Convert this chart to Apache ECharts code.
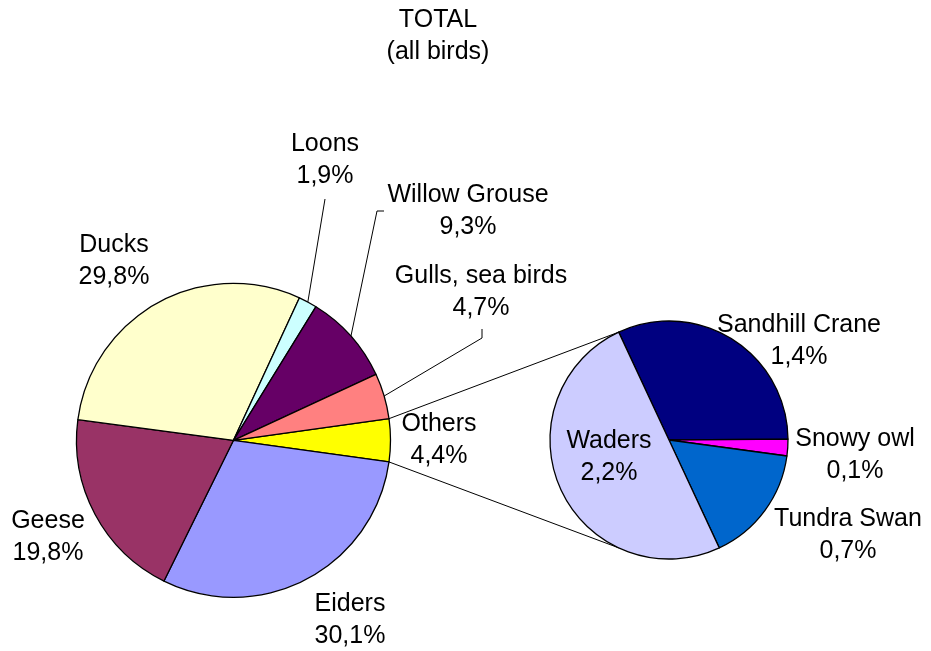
<!DOCTYPE html>
<html>
<head>
<meta charset="utf-8">
<script src="https://cdn.jsdelivr.net/npm/echarts@6/dist/echarts.min.js"></script>
<style>
  html, body { margin: 0; padding: 0; background: #fff; }
  #chart { width: 931px; height: 651px; }
</style>
</head>
<body>
<div id="chart"></div>
<script>
// Main pie, clockwise starting from the "Others" wedge
const mainNames = ['Others', 'Eiders', 'Geese', 'Ducks', 'Loons', 'Willow Grouse', 'Gulls, sea birds'];
const mainValues = [4.4, 30.1, 19.8, 29.8, 1.9, 9.3, 4.7];

// Breakdown of "Others", clockwise
const otherNames = ['Sandhill Crane', 'Snowy owl', 'Tundra Swan', 'Waders'];
const otherValues = [1.4, 0.1, 0.7, 2.2];

const mainColors = ['#FFFF00', '#9999FF', '#993366', '#FFFFCC', '#CCFFFF', '#660066', '#FF8080'];
const otherColors = ['#000080', '#FF00FF', '#0066CC', '#CCCCFF'];

const FONT = "'Liberation Sans', Arial, sans-serif";
const FS = 25;
const LH = 32;

// Geometry of the two pies
const mainCenter = [233.5, 440.3], mainR = 157;
const subCenter = [669, 440], subR = 119;
const subStart = 115;

const mainTotal = mainValues.reduce((a, b) => a + b, 0);
const mainStart = mainValues[0] / mainTotal * 360 / 2;

// Label placement (centre of each two-line label block)
const labelPos = {
  'Ducks': [114, 261],
  'Geese': [48, 537],
  'Eiders': [350, 620],
  'Others': [439, 440],
  'Gulls, sea birds': [481, 292],
  'Willow Grouse': [468, 211],
  'Loons': [325, 160],
  'Waders': [609, 457],
  'Sandhill Crane': [799, 341],
  'Snowy owl': [855, 455],
  'Tundra Swan': [848, 535]
};
// Leader line bends for labels that have one
const leaderPts = {
  'Loons': [[325, 199], [325, 199]],
  'Willow Grouse': [[377, 211], [384, 211]],
  'Gulls, sea birds': [[482, 338], [482, 329]]
};

function fmt(v) { return v.toFixed(1).replace('.', ',') + '%'; }

function buildData(names, values, colors) {
  return names.map((n, i) => ({
    name: n,
    value: values[i],
    itemStyle: { color: colors[i] },
    labelLine: { show: !!leaderPts[n] }
  }));
}

function polar(c, r, deg) {
  const a = deg * Math.PI / 180;
  return [c[0] + r * Math.cos(a), c[1] - r * Math.sin(a)];
}

const chart = echarts.init(document.getElementById('chart'));

function makeLayout(names, seriesCenter, seriesR, values, start) {
  const total = values.reduce((a, b) => a + b, 0);
  return function (params) {
    const name = names[params.dataIndex];
    const p = labelPos[name];
    const out = { x: p[0], y: p[1], align: 'center', verticalAlign: 'middle' };
    if (leaderPts[name]) {
      let acc = 0;
      for (let i = 0; i < params.dataIndex; i++) acc += values[i];
      const mid = start - (acc + values[params.dataIndex] / 2) / total * 360;
      const edge = polar(seriesCenter, seriesR, mid);
      out.labelLinePoints = [edge, leaderPts[name][0], leaderPts[name][1]];
    }
    return out;
  };
}

const labelStyle = {
  show: true,
  position: 'outside',
  color: '#000',
  fontFamily: FONT,
  fontSize: FS,
  lineHeight: LH,
  align: 'center',
  formatter: p => p.name + '\n' + fmt(p.value)
};

// Connector lines from the "Others" wedge to the breakdown pie
const topA = polar(mainCenter, mainR, mainStart);
const botA = polar(mainCenter, mainR, -mainStart);
const topB = polar(subCenter, subR, subStart);
const botB = polar(subCenter, subR, -subStart);

chart.setOption({
  animation: false,
  backgroundColor: '#fff',
  graphic: [
    {
      type: 'text', x: 438, y: 36,
      style: {
        text: 'TOTAL\n(all birds)', fill: '#000', font: FS + 'px ' + FONT,
        lineHeight: LH, textAlign: 'center', textVerticalAlign: 'middle'
      }
    },
    { type: 'line', shape: { x1: topA[0], y1: topA[1], x2: topB[0], y2: topB[1] }, style: { stroke: '#000', lineWidth: 1 } },
    { type: 'line', shape: { x1: botA[0], y1: botA[1], x2: botB[0], y2: botB[1] }, style: { stroke: '#000', lineWidth: 1 } }
  ],
  series: [
    {
      type: 'pie',
      center: mainCenter,
      radius: mainR,
      startAngle: mainStart,
      clockwise: true,
      avoidLabelOverlap: false,
      silent: true,
      itemStyle: { borderColor: '#000', borderWidth: 1.3 },
      label: labelStyle,
      labelLine: { show: true, lineStyle: { color: '#000', width: 1 }, smooth: false },
      labelLayout: makeLayout(mainNames, mainCenter, mainR, mainValues, mainStart),
      data: buildData(mainNames, mainValues, mainColors)
    },
    {
      type: 'pie',
      center: subCenter,
      radius: subR,
      startAngle: subStart,
      clockwise: true,
      avoidLabelOverlap: false,
      silent: true,
      minAngle: 0,
      itemStyle: { borderColor: '#000', borderWidth: 1.3 },
      label: labelStyle,
      labelLine: { show: false },
      labelLayout: makeLayout(otherNames, subCenter, subR, otherValues, subStart),
      data: buildData(otherNames, otherValues, otherColors)
    }
  ]
});
</script>
</body>
</html>
